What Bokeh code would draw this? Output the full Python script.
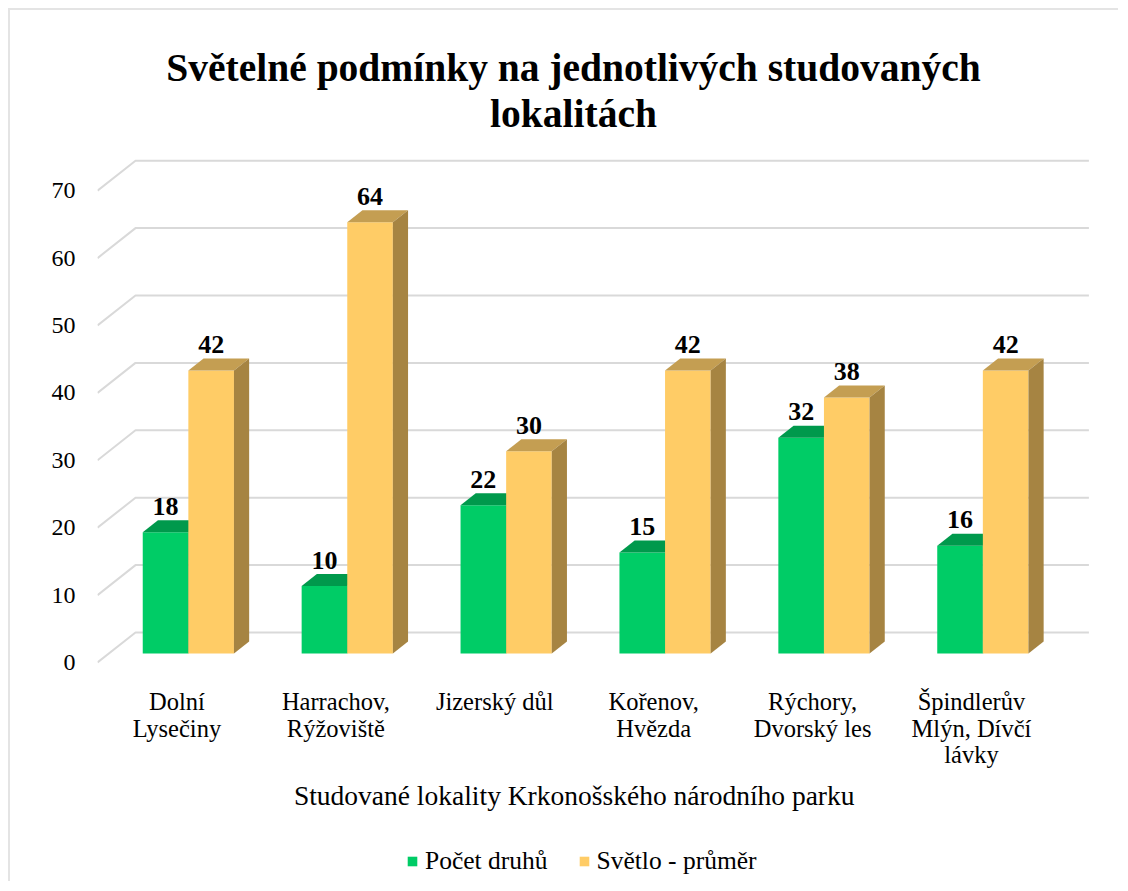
from bokeh.plotting import figure
from bokeh.models import Range1d, FixedTicker, Legend, LegendItem
from bokeh.core.properties import value
from bokeh.embed import file_html
from bokeh.resources import INLINE

# ---------------- data ----------------
title_lines = ["Světelné podmínky na jednotlivých studovaných", "lokalitách"]
categories = ["Dolní\nLysečiny", "Harrachov,\nRýžoviště", "Jizerský důl",
              "Kořenov,\nHvězda", "Rýchory,\nDvorský les", "Špindlerův\nMlýn, Dívčí\nlávky"]
pocet_druhu = [18, 10, 22, 15, 32, 16]
svetlo_prumer = [42, 64, 30, 42, 38, 42]
series_names = ["Počet druhů", "Světlo - průměr"]
y_ticks = [0, 10, 20, 30, 40, 50, 60, 70]
x_axis_title = "Studované lokality Krkonošského národního parku"

# ---------------- layout constants ----------------
FONT = "Liberation Serif"
W, H = 1110, 873
CANVAS_X0, CANVAS_Y0 = 10, 10          # page position of canvas (after margin + border)
FRAME_LEFT_PAGE = 97
ML = FRAME_LEFT_PAGE - CANVAS_X0
MR = 10
PX_CAT = 158.9                         # px per category
PX_UNIT = 6.74                         # px per value unit
ZERO_Y_PAGE = 662                      # page y of front zero line
frame_w = W - ML - MR
x_end = frame_w / PX_CAT
y_top = (ZERO_Y_PAGE - CANVAS_Y0) / PX_UNIT
y_bottom = -(CANVAS_Y0 + H - ZERO_Y_PAGE) / PX_UNIT

DX = 38 / PX_CAT                       # depth offset of back wall
DY = 30 / PX_UNIT
D0, D1 = 0.3, 0.7                      # bar front / back depth fraction
BW = 0.287                             # bar width (category units)


def v_at(page_y):
    return (ZERO_Y_PAGE - page_y) / PX_UNIT


def x_at(page_x):
    return (page_x - FRAME_LEFT_PAGE) / PX_CAT


def proj(x, v, d):
    return x + d * DX, v + d * DY


p = figure(width=W, height=H, x_range=Range1d(0, x_end), y_range=Range1d(y_bottom, y_top),
           x_axis_location=None, min_border_left=ML, min_border_right=MR,
           min_border_top=0, min_border_bottom=0,
           output_backend="svg", toolbar_location=None)
p.outline_line_color = None
p.xgrid.visible = False
p.ygrid.visible = False
p.background_fill_color = "white"
p.border_fill_color = "white"
p.styles = {"margin-left": "8px", "margin-top": "8px",
            "border-top": "2px solid #e4e4e4", "border-left": "2px solid #e4e4e4"}

ax = p.yaxis[0]
ax.ticker = FixedTicker(ticks=y_ticks)
ax.axis_line_color = None
ax.major_tick_line_color = None
ax.minor_tick_line_color = None
ax.major_tick_out = 0
ax.major_tick_in = 0
ax.major_label_standoff = 22
ax.major_label_text_font = FONT
ax.major_label_text_font_size = "24px"
ax.major_label_text_color = "#000000"

# ---------------- gridlines (3D) ----------------
n = len(categories)
gx, gy = [], []
for t in y_ticks:
    bx, by = proj(0, t, 1.0)
    ex, ey = proj(n, t, 1.0)
    gx.append([0, bx, ex])
    gy.append([t, by, ey])
p.multi_line(gx, gy, line_color="#d9d9d9", line_width=2)

# ---------------- 3D bars ----------------
colors = [
    {"front": "#00CC66", "top": "#00994C", "side": "#008A45"},
    {"front": "#FFCC66", "top": "#C49E52", "side": "#A68442"},
]
front_renderers = []
for s, vals in enumerate([pocet_druhu, svetlo_prumer]):
    fx, fy, tx, ty, sx, sy = [], [], [], [], [], []
    for i, v in enumerate(vals):
        x0 = i + 0.5 - BW if s == 0 else i + 0.5
        x1 = x0 + BW
        a = proj(x0, 0, D0); b = proj(x1, 0, D0)
        c = proj(x1, v, D0); d = proj(x0, v, D0)
        e = proj(x1, v, D1); f = proj(x0, v, D1); g = proj(x1, 0, D1)
        fx.append([a[0], b[0], c[0], d[0]]); fy.append([a[1], b[1], c[1], d[1]])
        tx.append([d[0], c[0], e[0], f[0]]); ty.append([d[1], c[1], e[1], f[1]])
        sx.append([b[0], g[0], e[0], c[0]]); sy.append([b[1], g[1], e[1], c[1]])
    r = p.patches(fx, fy, fill_color=colors[s]["front"], line_color=None)
    p.patches(tx, ty, fill_color=colors[s]["top"], line_color=None)
    p.patches(sx, sy, fill_color=colors[s]["side"], line_color=None)
    front_renderers.append(r)

# ---------------- data labels ----------------
lx, ly, lt = [], [], []
for s, vals in enumerate([pocet_druhu, svetlo_prumer]):
    for i, v in enumerate(vals):
        xc = i + 0.5 - BW / 2 if s == 0 else i + 0.5 + BW / 2
        px_, py_ = proj(xc, v, D1)
        lx.append(px_ - (D1 - D0) * DX)
        ly.append(py_)
        lt.append(str(v))
p.text(lx, ly, text=lt, text_font=value(FONT), text_font_style="bold",
       text_font_size="26px", text_align="center", text_baseline="alphabetic",
       y_offset=-14, text_color="#000000")

# ---------------- category labels ----------------
cx, cy, ct = [], [], []
for i, lab in enumerate(categories):
    for k, line in enumerate(lab.split("\n")):
        cx.append(i + 0.5)
        cy.append(v_at(701 + k * 26.5))
        ct.append(line)
p.text(cx, cy, text=ct, text_font=value(FONT), text_font_size="24.5px",
       text_align="center", text_baseline="alphabetic", text_color="#000000")

# axis title
p.text([n / 2], [v_at(795)], text=[x_axis_title], text_font=value(FONT),
       text_font_size="27.5px", text_align="center", text_baseline="alphabetic",
       text_color="#000000")

# chart title
p.text([x_at(573)] * 2, [v_at(67), v_at(113)], text=title_lines, text_font=value(FONT),
       text_font_style="bold", text_font_size="39.5px", text_align="center",
       text_baseline="alphabetic", text_color="#000000")

# ---------------- legend ----------------
legend = Legend(items=[LegendItem(label=series_names[0], renderers=[front_renderers[0]]),
                       LegendItem(label=series_names[1], renderers=[front_renderers[1]])],
                orientation="horizontal", location=(309, 7),
                glyph_width=12, glyph_height=12, label_standoff=7, spacing=30,
                padding=0, margin=0, border_line_color=None, background_fill_alpha=0,
                label_text_font=FONT, label_text_font_size="25.5px", label_text_color="#000000")
p.add_layout(legend)

open("out.html", "w").write(file_html(p, INLINE))
